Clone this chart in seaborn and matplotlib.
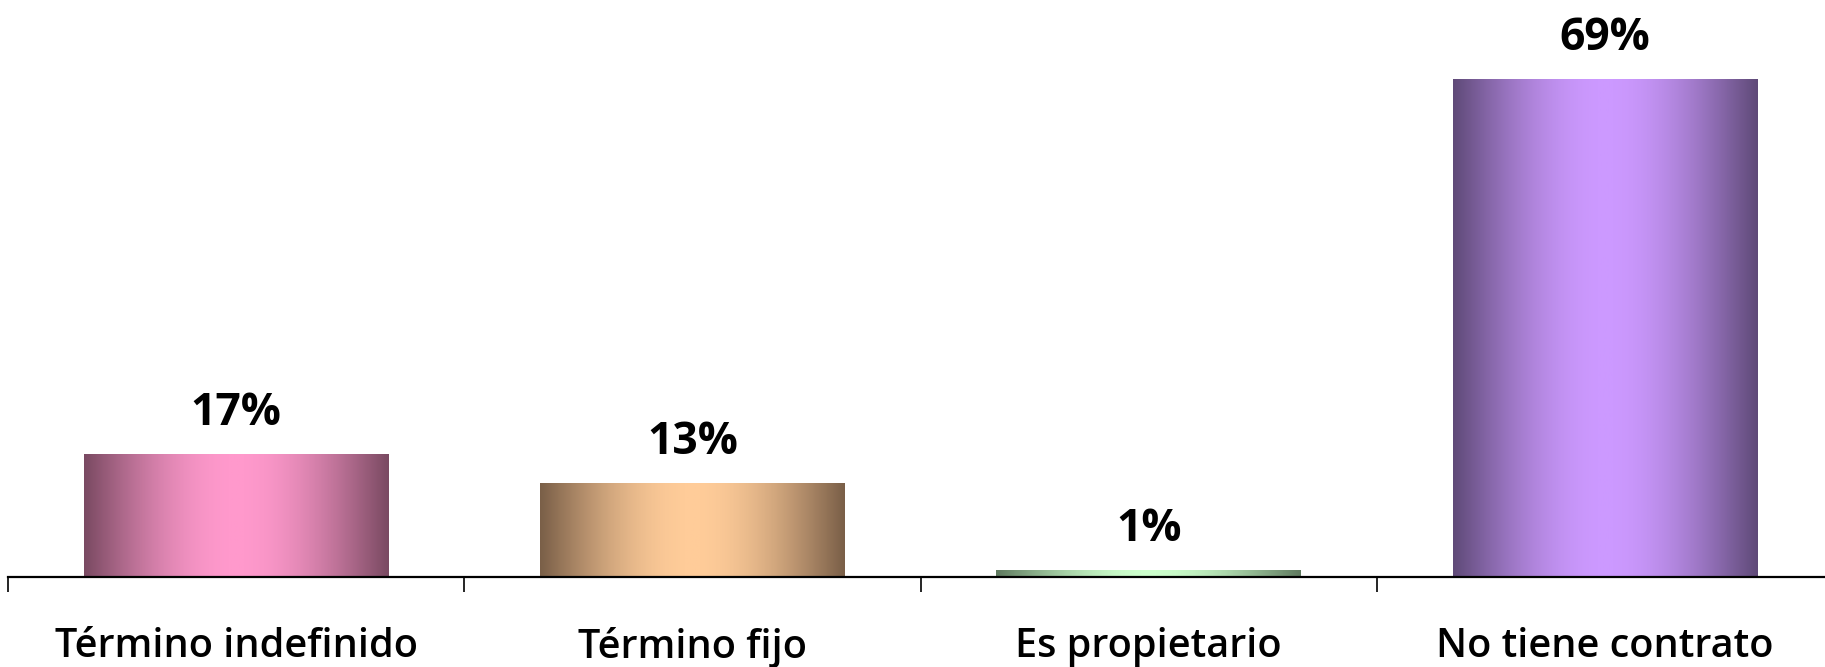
import numpy as np
import pandas as pd
import matplotlib
matplotlib.use("Agg")
import matplotlib.pyplot as plt
import seaborn as sns
from matplotlib.colors import LinearSegmentedColormap

categorias = ["Término indefinido", "Término fijo", "Es propietario", "No tiene contrato"]
porcentajes = [17, 13, 1, 69]
etiquetas = ["17%", "13%", "1%", "69%"]
oscuros = ["#7a4a62", "#7a5f48", "#5f7a5f", "#5f4a78"]
claros = ["#ff99cc", "#ffcc99", "#ccffcc", "#cc99ff"]

sns.set_style("white")
plt.rcParams["font.family"] = ["Open Sans", "DejaVu Sans"]
plt.rcParams["text.color"] = "black"
plt.rcParams["xtick.color"] = "black"

data = pd.DataFrame({"cat": categorias, "val": porcentajes})

fig = plt.figure(figsize=(18.25, 6.67), dpi=100)
ax = fig.add_axes([8 / 1825, 1 - 577 / 667, 1.0, 577 / 667])

sns.barplot(data=data, x="cat", y="val", width=0.667, color="white", ax=ax)

# degradado horizontal oscuro-claro-oscuro en cada barra
xs = np.linspace(0, 1, 256)
perfil = np.sin(np.pi * xs)
for bar, osc, cla in zip(ax.patches, oscuros, claros):
    cmap = LinearSegmentedColormap.from_list("g", [osc, cla])
    x0, y0 = bar.get_x(), bar.get_y()
    w, h = bar.get_width(), bar.get_height()
    im = ax.imshow(perfil[np.newaxis, :], cmap=cmap, aspect="auto",
                   extent=(x0, x0 + w, y0, y0 + h), vmin=0, vmax=1, zorder=2)
    im.set_clip_path(bar)
    bar.set_edgecolor("none")
    bar.set_facecolor("none")

for i, (v, t) in enumerate(zip(porcentajes, etiquetas)):
    ax.annotate(t, (i, v), xytext=(0, 21), textcoords="offset points",
                ha="center", va="baseline", fontsize=32, fontweight="bold",
                color="black")

ax.set_xlim(-0.5, 3.5)
ax.set_ylim(0, 80)
ax.set_xlabel("")
ax.set_ylabel("")
ax.set_yticks([])
for s in ["top", "right", "left"]:
    ax.spines[s].set_visible(False)
ax.spines["bottom"].set_color("black")
ax.spines["bottom"].set_linewidth(1.6)

ax.set_xticks([-0.5, 0.5, 1.5, 2.5, 3.5])
ax.set_xticklabels([])
ax.tick_params(axis="x", which="major", direction="out", length=10.8,
               width=1.2, color="black", bottom=True)
ax.set_xticks(range(len(categorias)), minor=True)
ax.set_xticklabels(categorias, minor=True, fontsize=28.5, fontweight="semibold")
ax.tick_params(axis="x", which="minor", length=0, pad=36, labelcolor="black")

fig.savefig("out.png", dpi=100)
